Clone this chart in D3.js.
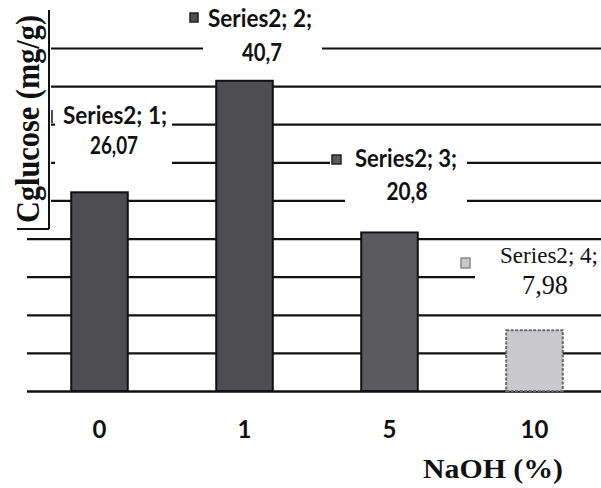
<!DOCTYPE html>
<html>
<head>
<meta charset="utf-8">
<script src="https://cdn.jsdelivr.net/npm/d3@7"></script>
<style>
  html, body { margin: 0; padding: 0; background: #ffffff; }
  svg { display: block; }
</style>
</head>
<body>
<svg id="chart" width="601" height="488"></svg>
<script>
// NaOH concentration (%) and the glucose yield measured for each
const categories = ["0", "1", "5", "10"];
const glucose = [26.07, 40.7, 20.8, 7.98];
const seriesName = "Series2";
const valueLabels = ["26,07", "40,7", "20,8", "7,98"];
const yTicks = [0, 5, 10, 15, 20, 25, 30, 35, 40, 45];
const xTitle = "NaOH (%)";
const yTitle = "Cglucose (mg/g)";

const svg = d3.select("#chart");
const W = 601;

const x = d3.scaleBand()
  .domain(categories)
  .range([27, 607])
  .paddingInner(0.61)
  .paddingOuter(0.305);

const y = d3.scaleLinear()
  .domain([0, 45])
  .range([391, 48]);

const fillFor = d3.scaleOrdinal()
  .domain(categories)
  .range(["#4d4d52", "#4d4d52", "#5a5a5f", "#c9c9cd"]);

// horizontal gridlines
const grid = svg.append("g")
  .attr("transform", "translate(27,0)")
  .call(d3.axisLeft(y).tickValues(yTicks).tickSize(-(W - 27)).tickFormat(""));
grid.select(".domain").remove();
grid.selectAll(".tick line")
  .attr("stroke", "#111")
  .attr("stroke-width", d => d === 0 ? 2.6 : 2.2);

// boxed area holding the vertical title
svg.append("rect").attr("x", 0).attr("y", 0).attr("width", 51).attr("height", 229).attr("fill", "#fff");
svg.append("line").attr("x1", 49).attr("x2", 49).attr("y1", 10).attr("y2", 229)
  .attr("stroke", "#111").attr("stroke-width", 2);
svg.append("line").attr("x1", 17).attr("x2", 49).attr("y1", 229).attr("y2", 229)
  .attr("stroke", "#111").attr("stroke-width", 2);

// label placement (layout only)
const labelLayout = [
  { bg: [55, 102, 117, 76], l1: [115, 124, 104], l2: [114, 154, 48], marker: [51, 110, 2, 13], font: "sans" },
  { bg: [203, 4, 119, 64], l1: [260, 27, 104], l2: [262, 61, 40], marker: [190, 13, 8, 9], font: "sans" },
  { bg: [345, 143, 122, 66], l1: [406, 167, 102], l2: [407, 200, 41], marker: [332, 155, 9, 9], font: "sans" },
  { bg: [475, 247, 130, 52], l1: [549, 263, 98], l2: [545, 294, 46], marker: [461, 258, 9, 10], font: "serif" }
];

// label backgrounds interrupt the gridlines
svg.append("g").selectAll("rect")
  .data(labelLayout)
  .join("rect")
  .attr("x", d => d.bg[0]).attr("y", d => d.bg[1])
  .attr("width", d => d.bg[2]).attr("height", d => d.bg[3])
  .attr("fill", "#fff");
svg.append("rect").attr("x", 330).attr("y", 153).attr("width", 15).attr("height", 13).attr("fill", "#fff");

// bars
svg.append("g").selectAll("rect")
  .data(categories.map((c, i) => ({ c, v: glucose[i] })))
  .join("rect")
  .attr("x", d => x(d.c))
  .attr("y", d => y(d.v))
  .attr("width", x.bandwidth())
  .attr("height", d => y(0) - y(d.v))
  .attr("fill", d => fillFor(d.c))
  .attr("stroke", d => d.c === "10" ? "#6a6a6e" : "#111")
  .attr("stroke-width", 2)
  .attr("stroke-dasharray", d => d.c === "10" ? "3,1.5" : null);

// data labels
const labels = svg.append("g");
categories.forEach((c, i) => {
  const L = labelLayout[i];
  const serif = L.font === "serif";
  const fam = serif ? "'Liberation Serif', 'Times New Roman', serif" : "Lato, 'Open Sans', sans-serif";
  labels.append("rect")
    .attr("x", L.marker[0]).attr("y", L.marker[1])
    .attr("width", L.marker[2]).attr("height", L.marker[3])
    .attr("fill", fillFor(c))
    .attr("stroke", serif ? "#8a8a8e" : "#222")
    .attr("stroke-width", i === 0 ? 0 : 1.5);
  labels.append("text")
    .attr("x", L.l1[0]).attr("y", L.l1[1])
    .attr("text-anchor", "middle")
    .attr("font-family", fam)
    .attr("font-weight", serif ? 400 : 700)
    .attr("font-size", serif ? 23.5 : 25)
    .attr("fill", "#111")
    .attr("textLength", L.l1[2])
    .attr("lengthAdjust", "spacingAndGlyphs")
    .text(`${seriesName}; ${i + 1};`);
  labels.append("text")
    .attr("x", L.l2[0]).attr("y", L.l2[1])
    .attr("text-anchor", "middle")
    .attr("font-family", fam)
    .attr("font-weight", serif ? 400 : 700)
    .attr("font-size", serif ? 27 : 25)
    .attr("fill", "#111")
    .attr("textLength", L.l2[2])
    .attr("lengthAdjust", "spacingAndGlyphs")
    .text(valueLabels[i]);
});

// category axis labels
const xAxis = svg.append("g")
  .attr("transform", "translate(0,391)")
  .call(d3.axisBottom(x).tickSize(0).tickPadding(30));
xAxis.select(".domain").remove();
xAxis.selectAll("text")
  .attr("font-family", "Lato, 'Open Sans', sans-serif")
  .attr("font-weight", 700)
  .attr("font-size", 24)
  .attr("fill", "#111")
  .attr("dy", "0.72em");

// axis titles
svg.append("text")
  .attr("x", 423).attr("y", 478)
  .attr("font-family", "'Liberation Serif', 'Times New Roman', serif")
  .attr("font-weight", 700)
  .attr("font-size", 27)
  .attr("fill", "#111")
  .attr("textLength", 140)
  .attr("lengthAdjust", "spacingAndGlyphs")
  .text(xTitle);

// vertical title: tall, narrow bold serif lettering
svg.append("text")
  .attr("transform", "translate(39,223) rotate(-90) scale(1,1.17)")
  .attr("font-family", "'Liberation Serif', 'Times New Roman', serif")
  .attr("font-weight", 700)
  .attr("font-size", 29)
  .attr("fill", "#111")
  .attr("textLength", 208)
  .attr("lengthAdjust", "spacingAndGlyphs")
  .text(yTitle);
</script>
</body>
</html>
